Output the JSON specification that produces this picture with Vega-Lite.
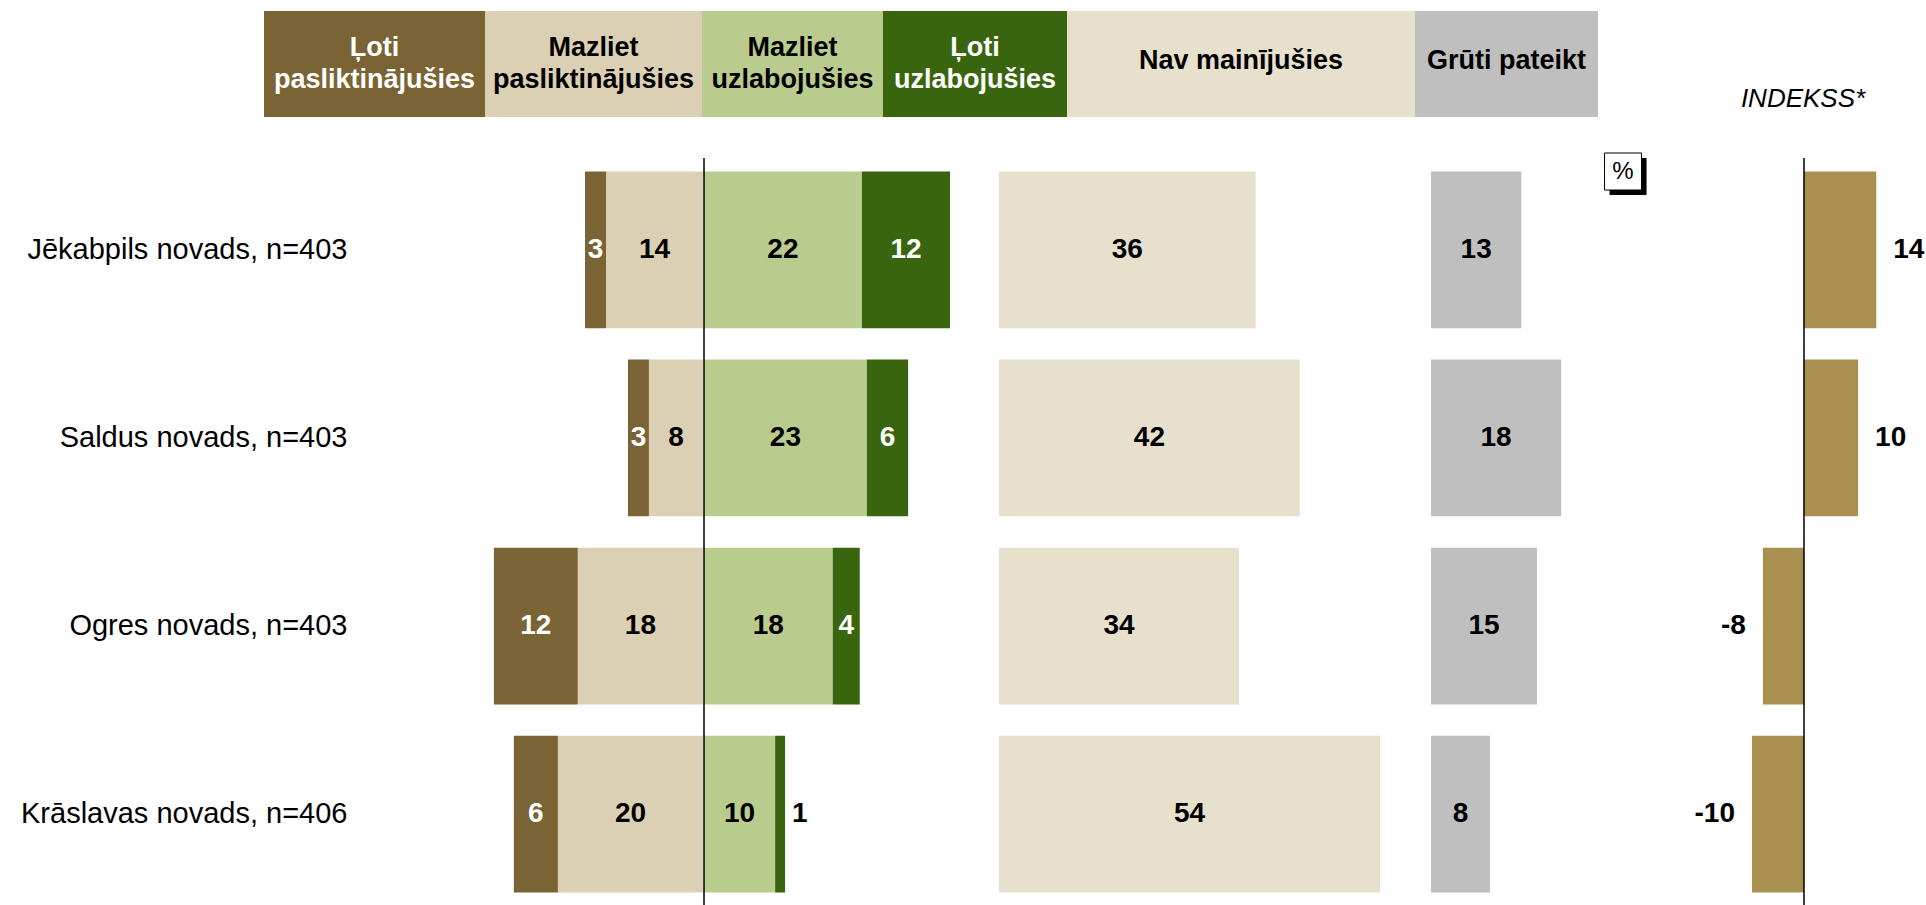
{
  "$schema": "https://vega.github.io/schema/vega-lite/v6.json",
  "padding": {"left": 20, "top": 11, "right": 0, "bottom": 0},
  "config": {"view": {"stroke": null}, "font": "Liberation Sans", "text": {"font": "Liberation Sans"},
    "locale": {"number": {"decimal": ".", "thousands": ",", "grouping": [3], "currency": ["", ""], "minus": "-"}}},
  "datasets": {
    "header": [
      {"cat": "Ļoti pasliktinājušies", "label": "Ļoti\npasliktinājušies"},
      {"cat": "Mazliet pasliktinājušies", "label": "Mazliet\npasliktinājušies"},
      {"cat": "Mazliet uzlabojušies", "label": "Mazliet\nuzlabojušies"},
      {"cat": "Ļoti uzlabojušies", "label": "Ļoti\nuzlabojušies"},
      {"cat": "Nav mainījušies", "label": "Nav mainījušies"},
      {"cat": "Grūti pateikt", "label": "Grūti pateikt"}
    ],
    "survey": [
      {"region": "Jēkabpils novads, n=403", "cat": "Ļoti pasliktinājušies", "value": 2.95},
      {"region": "Jēkabpils novads, n=403", "cat": "Mazliet pasliktinājušies", "value": 13.64},
      {"region": "Jēkabpils novads, n=403", "cat": "Mazliet uzlabojušies", "value": 22.2},
      {"region": "Jēkabpils novads, n=403", "cat": "Ļoti uzlabojušies", "value": 12.4},
      {"region": "Jēkabpils novads, n=403", "cat": "Nav mainījušies", "value": 36.1},
      {"region": "Jēkabpils novads, n=403", "cat": "Grūti pateikt", "value": 12.7},
      {"region": "Saldus novads, n=403", "cat": "Ļoti pasliktinājušies", "value": 2.95},
      {"region": "Saldus novads, n=403", "cat": "Mazliet pasliktinājušies", "value": 7.6},
      {"region": "Saldus novads, n=403", "cat": "Mazliet uzlabojušies", "value": 22.9},
      {"region": "Saldus novads, n=403", "cat": "Ļoti uzlabojušies", "value": 5.8},
      {"region": "Saldus novads, n=403", "cat": "Nav mainījušies", "value": 42.3},
      {"region": "Saldus novads, n=403", "cat": "Grūti pateikt", "value": 18.3},
      {"region": "Ogres novads, n=403", "cat": "Ļoti pasliktinājušies", "value": 11.8},
      {"region": "Ogres novads, n=403", "cat": "Mazliet pasliktinājušies", "value": 17.6},
      {"region": "Ogres novads, n=403", "cat": "Mazliet uzlabojušies", "value": 18.1},
      {"region": "Ogres novads, n=403", "cat": "Ļoti uzlabojušies", "value": 3.8},
      {"region": "Ogres novads, n=403", "cat": "Nav mainījušies", "value": 33.75},
      {"region": "Ogres novads, n=403", "cat": "Grūti pateikt", "value": 14.9},
      {"region": "Krāslavas novads, n=406", "cat": "Ļoti pasliktinājušies", "value": 6.2},
      {"region": "Krāslavas novads, n=406", "cat": "Mazliet pasliktinājušies", "value": 20.4},
      {"region": "Krāslavas novads, n=406", "cat": "Mazliet uzlabojušies", "value": 10.0},
      {"region": "Krāslavas novads, n=406", "cat": "Ļoti uzlabojušies", "value": 1.4},
      {"region": "Krāslavas novads, n=406", "cat": "Nav mainījušies", "value": 53.6},
      {"region": "Krāslavas novads, n=406", "cat": "Grūti pateikt", "value": 8.3}
    ],
    "indekss": [
      {"region": "Jēkabpils novads, n=403", "value": 13.9},
      {"region": "Saldus novads, n=403", "value": 10.4},
      {"region": "Ogres novads, n=403", "value": -7.9},
      {"region": "Krāslavas novads, n=406", "value": -10.0}
    ]
  },
  "spacing": 34,
  "vconcat": [
    {
      "spacing": 0,
      "hconcat": [
        {"width": 221, "height": 106, "data": {"name": "header"}, "transform": [{"filter": "datum.cat == 'Ļoti pasliktinājušies'"}],
         "layer": [
           {"mark": {"type": "rect"}, "encoding": {"color": {"field": "cat", "type": "nominal", "legend": null, "scale": {"domain": ["Ļoti pasliktinājušies", "Mazliet pasliktinājušies", "Mazliet uzlabojušies", "Ļoti uzlabojušies", "Nav mainījušies", "Grūti pateikt"], "range": ["#7A6436", "#DCD0B4", "#B9CC8E", "#3A650F", "#E7E0CD", "#BFBFBF"]}}}},
           {"mark": {"type": "text", "fontSize": 27, "fontWeight": "bold", "lineBreak": "\n", "lineHeight": 32, "dy": -16}, "encoding": {"text": {"field": "label"}, "color": {"value": "white"}}}
         ]},
        {"width": 217, "height": 106, "data": {"name": "header"}, "transform": [{"filter": "datum.cat == 'Mazliet pasliktinājušies'"}],
         "layer": [
           {"mark": {"type": "rect"}, "encoding": {"color": {"field": "cat", "type": "nominal", "legend": null, "scale": {"domain": ["Ļoti pasliktinājušies", "Mazliet pasliktinājušies", "Mazliet uzlabojušies", "Ļoti uzlabojušies", "Nav mainījušies", "Grūti pateikt"], "range": ["#7A6436", "#DCD0B4", "#B9CC8E", "#3A650F", "#E7E0CD", "#BFBFBF"]}}}},
           {"mark": {"type": "text", "fontSize": 27, "fontWeight": "bold", "lineBreak": "\n", "lineHeight": 32, "dy": -16}, "encoding": {"text": {"field": "label"}, "color": {"value": "black"}}}
         ]},
        {"width": 181, "height": 106, "data": {"name": "header"}, "transform": [{"filter": "datum.cat == 'Mazliet uzlabojušies'"}],
         "layer": [
           {"mark": {"type": "rect"}, "encoding": {"color": {"field": "cat", "type": "nominal", "legend": null, "scale": {"domain": ["Ļoti pasliktinājušies", "Mazliet pasliktinājušies", "Mazliet uzlabojušies", "Ļoti uzlabojušies", "Nav mainījušies", "Grūti pateikt"], "range": ["#7A6436", "#DCD0B4", "#B9CC8E", "#3A650F", "#E7E0CD", "#BFBFBF"]}}}},
           {"mark": {"type": "text", "fontSize": 27, "fontWeight": "bold", "lineBreak": "\n", "lineHeight": 32, "dy": -16}, "encoding": {"text": {"field": "label"}, "color": {"value": "black"}}}
         ]},
        {"width": 184, "height": 106, "data": {"name": "header"}, "transform": [{"filter": "datum.cat == 'Ļoti uzlabojušies'"}],
         "layer": [
           {"mark": {"type": "rect"}, "encoding": {"color": {"field": "cat", "type": "nominal", "legend": null, "scale": {"domain": ["Ļoti pasliktinājušies", "Mazliet pasliktinājušies", "Mazliet uzlabojušies", "Ļoti uzlabojušies", "Nav mainījušies", "Grūti pateikt"], "range": ["#7A6436", "#DCD0B4", "#B9CC8E", "#3A650F", "#E7E0CD", "#BFBFBF"]}}}},
           {"mark": {"type": "text", "fontSize": 27, "fontWeight": "bold", "lineBreak": "\n", "lineHeight": 32, "dy": -16}, "encoding": {"text": {"field": "label"}, "color": {"value": "white"}}}
         ]},
        {"width": 348, "height": 106, "data": {"name": "header"}, "transform": [{"filter": "datum.cat == 'Nav mainījušies'"}],
         "layer": [
           {"mark": {"type": "rect"}, "encoding": {"color": {"field": "cat", "type": "nominal", "legend": null, "scale": {"domain": ["Ļoti pasliktinājušies", "Mazliet pasliktinājušies", "Mazliet uzlabojušies", "Ļoti uzlabojušies", "Nav mainījušies", "Grūti pateikt"], "range": ["#7A6436", "#DCD0B4", "#B9CC8E", "#3A650F", "#E7E0CD", "#BFBFBF"]}}}},
           {"mark": {"type": "text", "fontSize": 27, "fontWeight": "bold", "dy": -3}, "encoding": {"text": {"field": "label"}, "color": {"value": "black"}}}
         ]},
        {"width": 183, "height": 106, "data": {"name": "header"}, "transform": [{"filter": "datum.cat == 'Grūti pateikt'"}],
         "layer": [
           {"mark": {"type": "rect"}, "encoding": {"color": {"field": "cat", "type": "nominal", "legend": null, "scale": {"domain": ["Ļoti pasliktinājušies", "Mazliet pasliktinājušies", "Mazliet uzlabojušies", "Ļoti uzlabojušies", "Nav mainījušies", "Grūti pateikt"], "range": ["#7A6436", "#DCD0B4", "#B9CC8E", "#3A650F", "#E7E0CD", "#BFBFBF"]}}}},
           {"mark": {"type": "text", "fontSize": 27, "fontWeight": "bold", "dy": -3}, "encoding": {"text": {"field": "label"}, "color": {"value": "black"}}}
         ]},
        {"width": 85, "height": 106, "data": {"values": [{}]}, "mark": {"type": "text"}, "encoding": {"text": {"value": ""}}},
        {"width": 240, "height": 106, "data": {"values": [{"title": "INDEKSS*"}]}, "mark": {"type": "text", "fontSize": 26, "fontStyle": "italic", "dy": 35, "color": "black"}, "encoding": {"text": {"field": "title"}}}
      ]
    },
    {
      "spacing": 0,
      "resolve": {"scale": {"x": "independent", "y": "shared"}},
      "hconcat": [
        {
          "width": 439, "height": 748,
          "data": {"name": "survey"},
          "transform": [{"filter": {"field": "cat", "oneOf": ["Ļoti pasliktinājušies", "Mazliet pasliktinājušies"]}}],
          "layer": [
            {"mark": {"type": "bar"}, "encoding": {
              "y": {"field": "region", "type": "nominal", "sort": null, "scale": {"paddingInner": 0.1664, "paddingOuter": 0.0718},
                "axis": {"title": null, "domain": false, "ticks": false, "labelFontSize": 29, "labelColor": "black", "labelPadding": -83, "labelLimit": 600, "labelFont": "Liberation Sans"}},
              "x": {"field": "value", "type": "quantitative", "stack": "zero", "scale": {"domain": [0, 61.73], "reverse": true, "nice": false}, "axis": null},
              "order": {"field": "cat", "type": "ordinal", "sort": "ascending"},
              "color": {"field": "cat", "type": "nominal", "legend": null, "scale": {"domain": ["Ļoti pasliktinājušies", "Mazliet pasliktinājušies", "Mazliet uzlabojušies", "Ļoti uzlabojušies", "Nav mainījušies", "Grūti pateikt"], "range": ["#7A6436", "#DCD0B4", "#B9CC8E", "#3A650F", "#E7E0CD", "#BFBFBF"]}}}},
            {"mark": {"type": "text", "fontSize": 28, "fontWeight": "bold"}, "encoding": {
              "y": {"field": "region", "type": "nominal", "sort": null, "scale": {"paddingInner": 0.1664, "paddingOuter": 0.0718},
                "axis": {"title": null, "domain": false, "ticks": false, "labelFontSize": 29, "labelColor": "black", "labelPadding": -83, "labelLimit": 600, "labelFont": "Liberation Sans"}},
              "x": {"field": "value", "type": "quantitative", "stack": "zero", "bandPosition": 0.5},
              "order": {"field": "cat", "type": "ordinal", "sort": "ascending"},
              "detail": {"field": "cat"},
              "text": {"field": "value", "type": "quantitative", "format": ".0f"},
              "color": {"condition": {"test": "datum.cat == 'Ļoti pasliktinājušies' || datum.cat == 'Ļoti uzlabojušies'", "value": "white"}, "value": "black"}}}
          ]
        },
        {
          "width": 295, "height": 748,
          "data": {"name": "survey"},
          "transform": [{"filter": {"field": "cat", "oneOf": ["Mazliet uzlabojušies", "Ļoti uzlabojušies"]}}],
          "layer": [
            {"mark": {"type": "bar"}, "encoding": {
              "y": {"field": "region", "type": "nominal", "sort": null, "axis": null},
              "x": {"field": "value", "type": "quantitative", "stack": "zero", "scale": {"domain": [0, 41.48], "nice": false}, "axis": null},
              "order": {"field": "cat", "type": "ordinal", "sort": "ascending"},
              "color": {"field": "cat", "type": "nominal", "legend": null, "scale": {"domain": ["Ļoti pasliktinājušies", "Mazliet pasliktinājušies", "Mazliet uzlabojušies", "Ļoti uzlabojušies", "Nav mainījušies", "Grūti pateikt"], "range": ["#7A6436", "#DCD0B4", "#B9CC8E", "#3A650F", "#E7E0CD", "#BFBFBF"]}}}},
            {"transform": [{"filter": "datum.value >= 2"}],
             "mark": {"type": "text", "fontSize": 28, "fontWeight": "bold"}, "encoding": {
              "y": {"field": "region", "type": "nominal", "sort": null, "axis": null},
              "x": {"field": "value", "type": "quantitative", "stack": "zero", "bandPosition": 0.5},
              "order": {"field": "cat", "type": "ordinal", "sort": "ascending"},
              "detail": {"field": "cat"},
              "text": {"field": "value", "type": "quantitative", "format": ".0f"},
              "color": {"condition": {"test": "datum.cat == 'Ļoti pasliktinājušies' || datum.cat == 'Ļoti uzlabojušies'", "value": "white"}, "value": "black"}}},
            {"transform": [
               {"stack": "value", "groupby": ["region"], "sort": [{"field": "cat", "order": "ascending"}], "as": ["v0", "v1"]},
               {"filter": "datum.value < 2"}],
             "mark": {"type": "text", "fontSize": 28, "fontWeight": "bold", "align": "left", "dx": 7, "color": "black"}, "encoding": {
              "y": {"field": "region", "type": "nominal", "sort": null, "axis": null},
              "x": {"field": "v1", "type": "quantitative"},
              "text": {"field": "value", "type": "quantitative", "format": ".0f"}}},
            {"data": {"values": [{}]}, "mark": {"type": "rule", "color": "black", "strokeWidth": 1.5}, "encoding": {"x": {"datum": 0}}}
          ]
        },
        {
          "width": 432, "height": 748,
          "data": {"name": "survey"},
          "transform": [{"filter": "datum.cat == 'Nav mainījušies'"}],
          "encoding": {"y": {"field": "region", "type": "nominal", "sort": null, "axis": null}},
          "layer": [
            {"mark": {"type": "bar"}, "encoding": {
              "x": {"field": "value", "type": "quantitative", "stack": "zero", "scale": {"domain": [0, 60.75], "nice": false}, "axis": null},
              "color": {"field": "cat", "type": "nominal", "legend": null, "scale": {"domain": ["Ļoti pasliktinājušies", "Mazliet pasliktinājušies", "Mazliet uzlabojušies", "Ļoti uzlabojušies", "Nav mainījušies", "Grūti pateikt"], "range": ["#7A6436", "#DCD0B4", "#B9CC8E", "#3A650F", "#E7E0CD", "#BFBFBF"]}}}},
            {"mark": {"type": "text", "fontSize": 28, "fontWeight": "bold", "color": "black"}, "encoding": {
              "x": {"field": "value", "type": "quantitative", "stack": "zero", "bandPosition": 0.5},
              "text": {"field": "value", "type": "quantitative", "format": ".0f"}}}
          ]
        },
        {
          "width": 216, "height": 748,
          "data": {"name": "survey"},
          "transform": [{"filter": "datum.cat == 'Grūti pateikt'"}],
          "layer": [
            {"mark": {"type": "bar"}, "encoding": {
              "y": {"field": "region", "type": "nominal", "sort": null, "axis": null},
              "x": {"field": "value", "type": "quantitative", "stack": "zero", "scale": {"domain": [0, 30.37], "nice": false}, "axis": null},
              "color": {"field": "cat", "type": "nominal", "legend": null, "scale": {"domain": ["Ļoti pasliktinājušies", "Mazliet pasliktinājušies", "Mazliet uzlabojušies", "Ļoti uzlabojušies", "Nav mainījušies", "Grūti pateikt"], "range": ["#7A6436", "#DCD0B4", "#B9CC8E", "#3A650F", "#E7E0CD", "#BFBFBF"]}}}},
            {"mark": {"type": "text", "fontSize": 28, "fontWeight": "bold", "color": "black"}, "encoding": {
              "y": {"field": "region", "type": "nominal", "sort": null, "axis": null},
              "x": {"field": "value", "type": "quantitative", "stack": "zero", "bandPosition": 0.5},
              "text": {"field": "value", "type": "quantitative", "format": ".0f"}}},
            {"data": {"values": [{}]}, "mark": {"type": "point", "shape": "square", "size": 1369, "filled": true, "color": "black", "opacity": 1, "xOffset": 5, "yOffset": 5},
             "encoding": {"x": {"datum": 27}, "y": {"datum": "Jēkabpils novads, n=403", "bandPosition": 0}}},
            {"data": {"values": [{}]}, "mark": {"type": "point", "shape": "square", "size": 1369, "filled": true, "fill": "white", "stroke": "black", "strokeWidth": 1, "opacity": 1},
             "encoding": {"x": {"datum": 27}, "y": {"datum": "Jēkabpils novads, n=403", "bandPosition": 0}}},
            {"data": {"values": [{}]}, "mark": {"type": "text", "fontSize": 24, "color": "black"},
             "encoding": {"x": {"datum": 27}, "y": {"datum": "Jēkabpils novads, n=403", "bandPosition": 0}, "text": {"value": "%"}}}
          ]
        },
        {
          "width": 277, "height": 748,
          "data": {"name": "indekss"},
          "layer": [
            {"mark": {"type": "bar", "color": "#A98F50"}, "encoding": {
              "y": {"field": "region", "type": "nominal", "sort": null, "axis": null},
              "x": {"field": "value", "type": "quantitative", "scale": {"domain": [-30.19, 23.08], "nice": false, "zero": true}, "axis": null}}},
            {"transform": [{"filter": "datum.value > 0"}],
             "mark": {"type": "text", "fontSize": 28, "fontWeight": "bold", "align": "left", "dx": 17, "color": "black"}, "encoding": {
              "y": {"field": "region", "type": "nominal", "sort": null, "axis": null},
              "x": {"field": "value", "type": "quantitative"},
              "text": {"field": "value", "type": "quantitative", "format": ".0f"}}},
            {"transform": [{"filter": "datum.value < 0"}],
             "mark": {"type": "text", "fontSize": 28, "fontWeight": "bold", "align": "right", "dx": -17, "color": "black"}, "encoding": {
              "y": {"field": "region", "type": "nominal", "sort": null, "axis": null},
              "x": {"field": "value", "type": "quantitative"},
              "text": {"field": "value", "type": "quantitative", "format": ".0f"}}},
            {"data": {"values": [{}]}, "mark": {"type": "rule", "color": "black", "strokeWidth": 1.5}, "encoding": {"x": {"datum": 0}}}
          ]
        }
      ]
    }
  ]
}
